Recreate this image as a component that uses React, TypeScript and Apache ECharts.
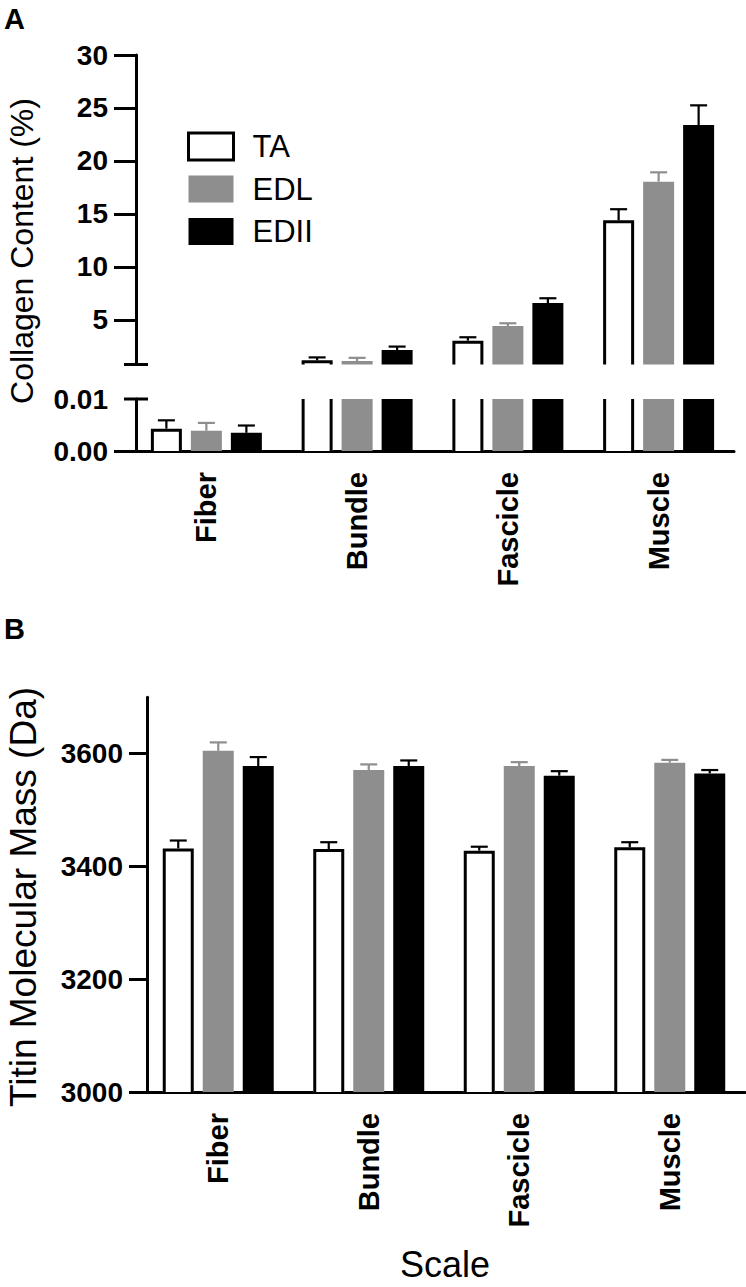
import React, { useEffect, useRef } from 'react';
import * as echarts from 'echarts';

// ---------- data ----------
const categories = ['Fiber', 'Bundle', 'Fascicle', 'Muscle'];
const seriesNames = ['TA', 'EDL', 'EDII'];

// Panel A: collagen content (%)
const collagenTA = [0.0043, 1.2, 3.05, 14.4];
const collagenTAErr = [0.0016, 0.27, 0.32, 1.05];
const collagenEDL = [0.0039, 1.13, 4.43, 18.05];
const collagenEDLErr = [0.0015, 0.3, 0.26, 0.88];
const collagenEDII = [0.0035, 2.17, 6.6, 23.4];
const collagenEDIIErr = [0.0014, 0.32, 0.45, 1.85];
const collagenUpperTicks = [5, 10, 15, 20, 25, 30];
const collagenLowerTicks = [0, 0.01];

// Panel B: titin molecular mass (Da)
const titinTA = [3432, 3431, 3428, 3434];
const titinTAErr = [14, 12, 7, 9];
const titinEDL = [3605, 3571, 3578, 3584];
const titinEDLErr = [15, 10, 7, 5];
const titinEDII = [3578, 3578, 3561, 3565];
const titinEDIIErr = [16, 10, 8, 6];
const titinTicks = [3000, 3200, 3400, 3600];

const titleA = 'Collagen Content (%)';
const titleB = 'Titin Molecular Mass (Da)';
const titleX = 'Scale';

// ---------- styling ----------
const FONT = "'Liberation Sans', Arial, Helvetica, sans-serif";
const GRAY = '#8e8e8e';
const BAR_W = 31;
const STRIDE = 40;

const outlineRender = (offset: number) => (params: any, api: any) => {
  const cs = params.coordSys;
  const c = api.coord([api.value(0), api.value(1)]);
  const base = api.coord([api.value(0), 0]);
  const bottomEdge = cs.y + cs.height;
  const bottom = Math.min(base[1], bottomEdge);
  const x0 = c[0] + offset - BAR_W / 2 + 1.5;
  const x1 = c[0] + offset + BAR_W / 2 - 1.5;
  const style = { stroke: '#000', lineWidth: 3, fill: null, lineJoin: 'miter', lineCap: 'butt' };
  if (c[1] > bottomEdge) return null;
  if (c[1] < cs.y) {
    return {
      type: 'group',
      children: [
        { type: 'line', shape: { x1: x0, y1: bottom, x2: x0, y2: cs.y }, style },
        { type: 'line', shape: { x1: x1, y1: bottom, x2: x1, y2: cs.y }, style },
      ],
    };
  }
  const top = c[1] + 1.5;
  return {
    type: 'polyline',
    shape: { points: [[x0, bottom], [x0, top], [x1, top], [x1, bottom]] },
    style,
  };
};

const errRender = (offset: number, color: string) => (params: any, api: any) => {
  const cs = params.coordSys;
  const cat = api.value(0);
  const v = api.value(1);
  const e = api.value(2);
  const p = api.coord([cat, v]);
  const q = api.coord([cat, v + e]);
  if (p[1] > cs.y + cs.height + 0.5 || q[1] < cs.y - 0.5) return null;
  const x = p[0] + offset;
  const style = { stroke: color, lineWidth: 2.2 };
  return {
    type: 'group',
    children: [
      { type: 'line', shape: { x1: x, y1: p[1], x2: x, y2: q[1] }, style },
      { type: 'line', shape: { x1: x - 8.5, y1: q[1], x2: x + 8.5, y2: q[1] }, style },
    ],
  };
};

function makeSeries(idx: number, ta: number[], taE: number[], edl: number[], edlE: number[], edii: number[], ediiE: number[]) {
  const axes = { xAxisIndex: idx, yAxisIndex: idx };
  const bar = (name: string, data: number[], color: string) => ({
    type: 'bar',
    name,
    ...axes,
    data,
    barWidth: BAR_W,
    barGap: '29%',
    itemStyle: { color },
    emphasis: { disabled: true },
    z: 2,
  });
  const tuple = (v: number[], e: number[]) => v.map((val, i) => [i, val, e[i]]);
  const custom = (name: string, data: any[], render: any) => ({
    type: 'custom',
    name,
    ...axes,
    data,
    encode: { x: 0, y: 1 },
    renderItem: render,
    z: 5,
    silent: true,
  });
  return [
    bar(seriesNames[0], ta, '#ffffff'),
    bar(seriesNames[1], edl, GRAY),
    bar(seriesNames[2], edii, '#000000'),
    custom('TA outline', tuple(ta, taE), outlineRender(-STRIDE)),
    custom('TA error', tuple(ta, taE), errRender(-STRIDE, '#000')),
    custom('EDL error', tuple(edl, edlE), errRender(0, GRAY)),
    custom('EDII error', tuple(edii, ediiE), errRender(STRIDE, '#000')),
  ];
}

const axisLineStyle = { color: '#000', width: 3 };

function buildOption() {
  const upperTop = 55;
  const upperBottom = 364.5;
  const lowerTop = 399;
  const lowerBottom = 451;
  const bTop = 697.3;
  const bBottom = 1092;

  const xLabel = { rotate: 90, fontSize: 29, fontWeight: 'bold', color: '#000', fontFamily: FONT, margin: 21 };
  const yLabel = { fontSize: 28, fontWeight: 'bold', color: '#000', fontFamily: FONT };
  const nameStyle = { fill: '#000', fontFamily: FONT, align: 'center', verticalAlign: 'middle' };

  return {
    animation: false,
    backgroundColor: '#ffffff',
    textStyle: { fontFamily: FONT },
    grid: [
      { left: 131, width: 603, top: upperTop, height: upperBottom - upperTop, containLabel: false, outerBoundsMode: 'none' },
      { left: 131, width: 603, top: lowerTop, height: lowerBottom - lowerTop, containLabel: false, outerBoundsMode: 'none' },
      { left: 143, width: 602, top: bTop, height: bBottom - bTop, containLabel: false, outerBoundsMode: 'none' },
    ],
    legend: {
      orient: 'vertical',
      left: 182,
      top: 126,
      itemWidth: 45,
      itemHeight: 27,
      itemGap: 11.5,
      selectedMode: false,
      icon: 'rect',
      textStyle: { fontSize: 31, color: '#000', fontFamily: FONT, padding: [0, 0, 0, 14] },
      data: [
        { name: 'TA', itemStyle: { color: '#ffffff', borderColor: '#000', borderWidth: 3 } },
        { name: 'EDL', itemStyle: { color: GRAY } },
        { name: 'EDII', itemStyle: { color: '#000' } },
      ],
    },
    xAxis: [
      {
        type: 'category', gridIndex: 0, data: categories,
        axisLine: { show: false }, axisTick: { show: false }, axisLabel: { show: false },
      },
      {
        type: 'category', gridIndex: 1, data: categories,
        axisLine: { lineStyle: axisLineStyle },
        axisTick: { alignWithLabel: true, length: 18, lineStyle: { width: 3, color: '#000' } },
        axisLabel: xLabel,
      },
      {
        type: 'category', gridIndex: 2, data: categories,
        axisLine: { lineStyle: axisLineStyle },
        axisTick: { alignWithLabel: true, length: 16, lineStyle: { width: 3, color: '#000' } },
        axisLabel: xLabel,
      },
    ],
    yAxis: [
      {
        type: 'value', gridIndex: 0, min: 0.8, max: 30, offset: -5,
        splitLine: { show: false },
        axisLine: { show: true, lineStyle: axisLineStyle },
        axisTick: { show: true, customValues: collagenUpperTicks, length: 22, lineStyle: { width: 3, color: '#000' } },
        axisLabel: { ...yLabel, customValues: collagenUpperTicks, margin: 28, formatter: (v: number) => String(v) },
      },
      {
        type: 'value', gridIndex: 1, min: 0, max: 0.01, interval: 0.01, offset: -5,
        splitLine: { show: false },
        axisLine: { show: true, lineStyle: axisLineStyle },
        axisTick: { show: true, customValues: [0], length: 22, lineStyle: { width: 3, color: '#000' } },
        axisLabel: { ...yLabel, customValues: collagenLowerTicks, margin: 28, formatter: (v: number) => v.toFixed(2) },
      },
      {
        type: 'value', gridIndex: 2, min: 3000, max: 3700, offset: -4,
        splitLine: { show: false },
        axisLine: { show: true, lineStyle: axisLineStyle },
        axisTick: { show: true, customValues: titinTicks, length: 18, lineStyle: { width: 3, color: '#000' } },
        axisLabel: { ...yLabel, customValues: titinTicks, margin: 24, formatter: (v: number) => String(v) },
      },
    ],
    graphic: [
      { type: 'text', left: 4, top: 4, style: { text: 'A', fontSize: 29, fontWeight: 'bold', fill: '#000', fontFamily: FONT } },
      { type: 'text', left: 4, top: 614, style: { text: 'B', fontSize: 29, fontWeight: 'bold', fill: '#000', fontFamily: FONT } },
      { type: 'text', x: 22, y: 251, rotation: Math.PI / 2, style: { ...nameStyle, text: titleA, fontSize: 32 } },
      { type: 'text', x: 23, y: 897, rotation: Math.PI / 2, style: { ...nameStyle, text: titleB, fontSize: 37 } },
      { type: 'text', x: 445, y: 1264, style: { ...nameStyle, text: titleX, fontSize: 36 } },
      { type: 'line', shape: { x1: 124, y1: upperBottom, x2: 148, y2: upperBottom }, style: { stroke: '#000', lineWidth: 3 }, z: 10 },
      { type: 'line', shape: { x1: 124, y1: lowerTop, x2: 148, y2: lowerTop }, style: { stroke: '#000', lineWidth: 3 }, z: 10 },
    ],
    series: [
      ...makeSeries(0, collagenTA, collagenTAErr, collagenEDL, collagenEDLErr, collagenEDII, collagenEDIIErr),
      ...makeSeries(1, collagenTA, collagenTAErr, collagenEDL, collagenEDLErr, collagenEDII, collagenEDIIErr),
      ...makeSeries(2, titinTA, titinTAErr, titinEDL, titinEDLErr, titinEDII, titinEDIIErr),
    ],
  };
}

export default function App() {
  const ref = useRef<HTMLDivElement>(null);
  useEffect(() => {
    document.body.style.margin = '0';
    if (!ref.current) return;
    const chart = echarts.init(ref.current, undefined, { renderer: 'svg' });
    chart.setOption(buildOption() as any);
    return () => chart.dispose();
  }, []);
  return (
    <div
      ref={ref}
      style={{ position: 'absolute', left: 0, top: 0, width: 746, height: 1287, background: '#fff' }}
    />
  );
}
